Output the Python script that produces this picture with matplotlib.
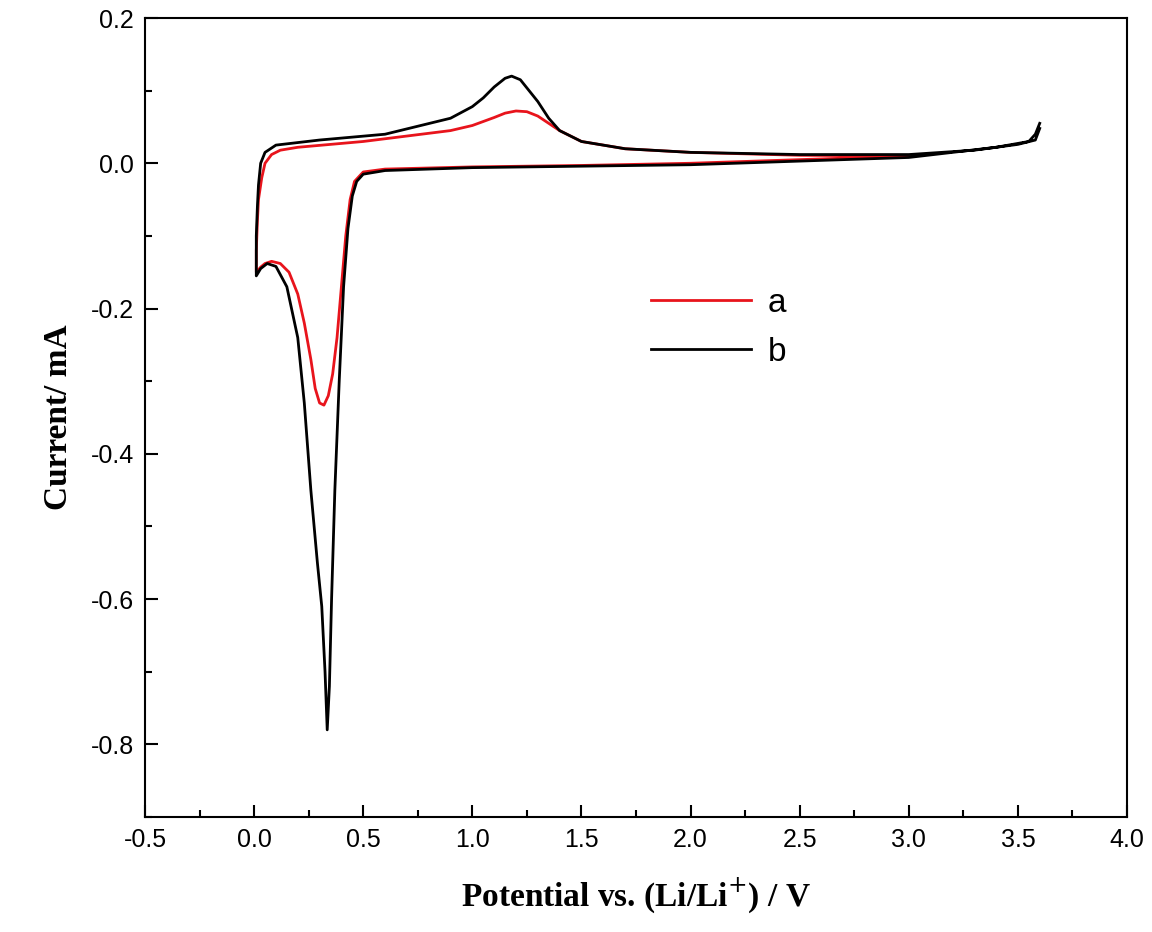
import matplotlib
matplotlib.use("Agg")
import matplotlib.pyplot as plt
from matplotlib.ticker import MultipleLocator

xa = [3.0, 2.5, 2.0, 1.5, 1.0, 0.6, 0.5, 0.46, 0.44, 0.42, 0.40, 0.38, 0.36, 0.34, 0.32, 0.30, 0.28, 0.26, 0.23, 0.20, 0.16, 0.12, 0.08, 0.05, 0.03, 0.01,
      0.01, 0.015, 0.02, 0.035, 0.05, 0.08, 0.12, 0.2, 0.5, 0.9, 1.0, 1.1, 1.15, 1.2, 1.25, 1.3, 1.35, 1.4, 1.5, 1.7, 2.0, 2.5, 3.0]
ya = [0.010, 0.005, 0.0, -0.003, -0.005, -0.008, -0.012, -0.025, -0.05, -0.1, -0.17, -0.24, -0.29, -0.32, -0.333, -0.33, -0.31, -0.27, -0.22, -0.18, -0.15, -0.138, -0.135, -0.138, -0.143, -0.15,
      -0.12, -0.08, -0.05, -0.02, 0.0, 0.012, 0.018, 0.022, 0.030, 0.045, 0.052, 0.063, 0.069, 0.072, 0.071, 0.065, 0.055, 0.045, 0.030, 0.020, 0.015, 0.011, 0.010]

xb = [3.6, 3.58, 3.55, 3.4, 3.0, 2.0, 1.0, 0.6, 0.5, 0.47, 0.45, 0.43, 0.41, 0.39, 0.37, 0.355, 0.345, 0.335, 0.325, 0.31, 0.29, 0.26, 0.23, 0.2, 0.15, 0.1, 0.06, 0.03, 0.01,
      0.01, 0.015, 0.02, 0.03, 0.05, 0.1, 0.3, 0.6, 0.9, 1.0, 1.05, 1.1, 1.15, 1.18, 1.22, 1.26, 1.3, 1.35, 1.4, 1.5, 1.7, 2.0, 2.5, 3.0, 3.3, 3.5, 3.58, 3.6]
yb = [0.055, 0.04, 0.03, 0.022, 0.008, -0.002, -0.006, -0.01, -0.015, -0.025, -0.045, -0.09, -0.17, -0.3, -0.45, -0.6, -0.72, -0.78, -0.70, -0.61, -0.55, -0.45, -0.33, -0.24, -0.17, -0.142, -0.138, -0.145, -0.155,
      -0.10, -0.06, -0.03, 0.0, 0.015, 0.025, 0.032, 0.040, 0.062, 0.078, 0.09, 0.105, 0.117, 0.12, 0.115, 0.10, 0.085, 0.062, 0.045, 0.030, 0.020, 0.015, 0.012, 0.012, 0.018, 0.026, 0.032, 0.048]

fig = plt.figure(figsize=(11.52, 9.32), dpi=100)
ax = fig.add_axes([145/1152, 1-817/932, (1127-145)/1152, (817-18)/932])
ax.plot(xa, ya, color="#e8141c", lw=2, label="a")
ax.plot(xb, yb, color="black", lw=2, label="b")
ax.set_xlim(-0.5, 4.0)
ax.set_ylim(-0.9, 0.2)
ax.xaxis.set_major_locator(MultipleLocator(0.5))
ax.xaxis.set_minor_locator(MultipleLocator(0.25))
ax.yaxis.set_major_locator(MultipleLocator(0.2))
ax.yaxis.set_minor_locator(MultipleLocator(0.1))
ax.tick_params(which="both", direction="in", top=False, right=False, width=1.5)
ax.tick_params(which="major", length=9, pad=8)
ax.tick_params(which="minor", length=5)
for s in ax.spines.values():
    s.set_linewidth(1.5)
ax.set_xticks(ax.get_xticks())
ax.set_yticks(ax.get_yticks())
ax.set_xticklabels(["%.1f" % v for v in ax.get_xticks()], family="Liberation Sans", fontsize=18)
ax.set_yticklabels(["%.1f" % v for v in ax.get_yticks()], family="Liberation Sans", fontsize=18)
ax.set_xlim(-0.5, 4.0)
ax.set_ylim(-0.9, 0.2)
plt.rcParams["mathtext.fontset"] = "custom"
plt.rcParams["mathtext.rm"] = "Liberation Serif:bold"
plt.rcParams["mathtext.it"] = "Liberation Serif:bold"
ax.set_xlabel("Potential vs. (Li/Li$^{+}$) / V", family="Liberation Serif", fontsize=24, fontweight="bold", labelpad=18)
ax.set_ylabel("Current/ mA", family="Liberation Serif", fontsize=24, fontweight="bold", labelpad=12)
ax.legend(loc="upper left", bbox_to_anchor=(0.485, 0.70), frameon=False, prop={"family": "Liberation Sans", "size": 24}, handlelength=3.0, handletextpad=0.5, labelspacing=0.55)
fig.savefig("out.png", dpi=100)
